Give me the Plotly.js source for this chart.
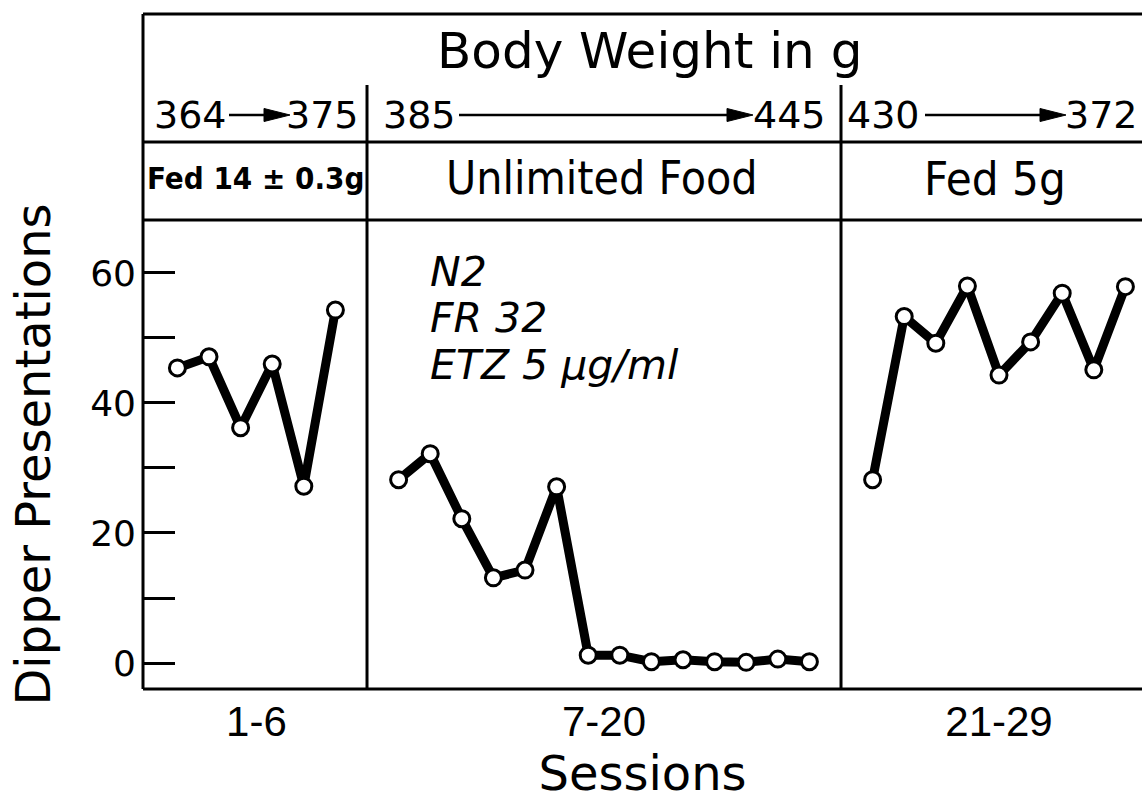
<!DOCTYPE html>
<html><head><meta charset="utf-8">
<script src="https://cdn.plot.ly/plotly-3.0.1.min.js"></script>
<style>html,body{margin:0;padding:0;background:#fff;}#chart{width:1142px;height:810px;}</style>
</head><body><div id="chart"></div>
<script>
// ---------------- data ----------------
const groupLabels = ['1-6', '7-20', '21-29'];
const sessions1 = [1, 2, 3, 4, 5, 6];
const values1   = [45.4, 47.1, 36.2, 46.0, 27.2, 54.3];
const sessions2 = [7, 8, 9, 10, 11, 12, 13, 14, 15, 16, 17, 18, 19, 20];
const values2   = [28.2, 32.2, 22.2, 13.1, 14.3, 27.1, 1.2, 1.2, 0.2, 0.5, 0.2, 0.1, 0.6, 0.2];
const sessions3 = [21, 22, 23, 24, 25, 26, 27, 28, 29];
const values3   = [28.2, 53.3, 49.2, 58.0, 44.3, 49.4, 56.9, 45.1, 57.9];
const treatments = ['Fed 14 ± 0.3g', 'Unlimited Food', 'Fed 5g'];
const weightStart = ['364', '385', '430'];
const weightEnd   = ['375', '445', '372'];
const headerTitle = 'Body Weight in g';
const conditionNotes = ['N2', 'FR 32', 'ETZ 5 μg/ml'];
const yTickVals = [0, 10, 20, 30, 40, 50, 60];
const yTickText = ['0', '', '20', '', '40', '', '60'];

// ---------------- geometry ----------------
const W = 1142, H = 810;
const L = 143, R = 1142, T = 220, B = 689;
const XR = [-0.089, 31.525];
const YR = [-4, 68.15];
const px = x => (x - L) / (R - L);
const py = y => (B - y) / (B - T);
const dx = v => (v - XR[0]) / (XR[1] - XR[0]);

const groups = [[sessions1, values1], [sessions2, values2], [sessions3, values3]];
// one empty slot between the groups
const positions = groups.map((g, i) => g[0].map(s => s + i));
const centers = positions.map(p => (p[0] + p[p.length - 1]) / 2);

const traces = groups.map((g, i) => ({
  type: 'scatter', mode: 'lines+markers',
  x: positions[i], y: g[1],
  line: {color: '#000', width: 9},
  marker: {symbol: 'circle', size: 16, color: '#fff', line: {color: '#000', width: 3}},
  showlegend: false, hoverinfo: 'skip', cliponaxis: false
}));

const LW = 3;
const shapes = [];
const line = (x0, y0, x1, y1, w) => shapes.push({type: 'line', xref: 'paper', yref: 'paper',
  x0, y0, x1, y1, line: {color: '#000', width: w || LW}, layer: 'above'});
line(0, 0, 0, py(14));          // left frame
line(0, py(14), 1, py(14));     // top frame
line(0, py(142), 1, py(142));   // below weights
line(0, 1, 1, 1);               // top of plot
line(0, 0, 1, 0);               // bottom axis
// group dividers
for (let i = 0; i < positions.length - 1; i++) {
  const a = positions[i][positions[i].length - 1], b = positions[i + 1][0];
  const xm = dx((a + b) / 2);
  line(xm, 0, xm, py(85));
}

// weight arrows (pixel layout)
const arrowRow = 115;
const arrows = [[229, 290], [459, 753], [925, 1066]];
arrows.forEach(([a, b]) => {
  const head = 26, hw = 6.5;
  line(px(a), py(arrowRow), px(b - head + 4), py(arrowRow), 2.5);
  shapes.push({type: 'path', xref: 'paper', yref: 'paper', layer: 'above',
    path: `M${px(b)},${py(arrowRow)} L${px(b - head)},${py(arrowRow - hw)} L${px(b - head)},${py(arrowRow + hw)} Z`,
    fillcolor: '#000', line: {color: '#000', width: 1}});
});

const ann = [];
const mainFont = 'DejaVu Sans, sans-serif';
const narrowFont = "'Liberation Sans Narrow', 'DejaVu Sans Condensed', 'Liberation Sans', sans-serif";
ann.push({text: headerTitle, xref: 'paper', yref: 'paper', x: px(649), y: py(51),
  xanchor: 'center', yanchor: 'middle', showarrow: false, font: {family: mainFont, size: 50, color: '#000'}});
const startX = [152, 381, 845];
const endX = [361, 828, 1140];
weightStart.forEach((t, i) => ann.push({text: t, xref: 'paper', yref: 'paper', x: px(startX[i]), y: py(arrowRow),
  xanchor: 'left', yanchor: 'middle', showarrow: false, font: {family: mainFont, size: 38, color: '#000'}}));
weightEnd.forEach((t, i) => ann.push({text: t, xref: 'paper', yref: 'paper', x: px(endX[i]), y: py(arrowRow),
  xanchor: 'right', yanchor: 'middle', showarrow: false, font: {family: mainFont, size: 38, color: '#000'}}));
const treatX = [255, 602, 995];
const treatSize = [31, 46, 47];
treatments.forEach((t, i) => ann.push({text: i === 0 ? '<b>' + t + '</b>' : t, xref: 'paper', yref: 'paper',
  x: px(treatX[i]), y: py(178), xanchor: 'center', yanchor: 'middle', showarrow: false,
  font: {family: narrowFont, size: treatSize[i], color: '#000'}}));
const noteY = [272, 318, 365];
conditionNotes.forEach((t, i) => ann.push({text: t, xref: 'paper', yref: 'paper', x: px(428), y: py(noteY[i]),
  xanchor: 'left', yanchor: 'middle', showarrow: false,
  font: {family: mainFont, size: 41, color: '#000', style: 'italic'}}));

const layout = {
  width: W, height: H,
  margin: {l: L, r: W - R, t: T, b: H - B, pad: 0},
  paper_bgcolor: '#fff', plot_bgcolor: '#fff',
  showlegend: false,
  xaxis: {range: XR, showgrid: false, zeroline: false, showline: false, ticks: '',
    tickvals: centers, ticktext: groupLabels, ticklabelstandoff: 4,
    tickfont: {family: 'Liberation Sans, sans-serif', size: 42, color: '#000'},
    title: {text: 'Sessions', font: {family: mainFont, size: 48, color: '#000'}, standoff: 12}},
  yaxis: {range: YR, showgrid: false, zeroline: false, showline: false,
    ticks: 'inside', ticklen: 32, tickwidth: 3, tickcolor: '#000',
    tickvals: yTickVals, ticktext: yTickText, ticklabelstandoff: 6,
    tickfont: {family: mainFont, size: 36, color: '#000'},
    title: {text: 'Dipper Presentations', font: {family: mainFont, size: 48, color: '#000'}, standoff: 24}},
  shapes: shapes, annotations: ann
};
Plotly.newPlot('chart', traces, layout, {staticPlot: true, displayModeBar: false});
</script></body></html>
